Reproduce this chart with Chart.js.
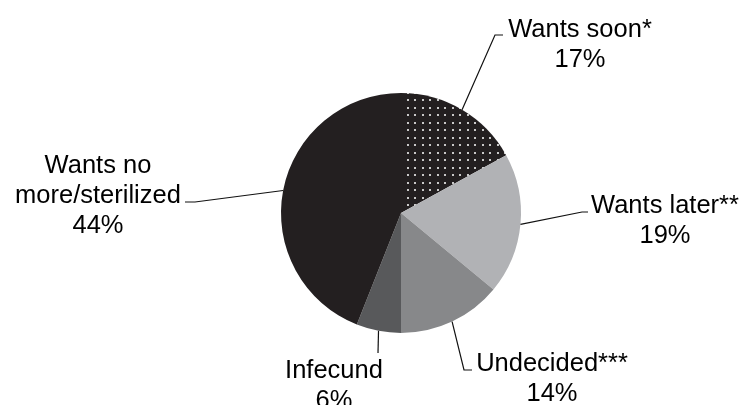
<!DOCTYPE html>
<html>
<head>
<meta charset="utf-8">
<script src="https://cdn.jsdelivr.net/npm/chart.js@4/dist/chart.umd.min.js"></script>
<style>
  html, body { margin: 0; padding: 0; background: #fff; }
  #wrap { width: 740px; height: 405px; position: relative; }
</style>
</head>
<body>
<div id="wrap"><canvas id="pie"></canvas></div>
<script>
// ── Data ──
const categories = ['Wants soon*', 'Wants later**', 'Undecided***', 'Infecund', ['Wants no', 'more/sterilized']];
const shares = [17, 19, 14, 6, 44];
const shareLabels = ['17%', '19%', '14%', '6%', '44%'];

// ── Styling / label layout (pixels) ──
const sliceColors = ['pattern', '#b1b2b5', '#87888a', '#58595b', '#231f20'];
// elbow + end of each leader line, and centre x / first baseline of each label
const leaders = [
  { elbow: [495, 35],  end: [503, 35],  tx: 580, ty: 37,  align: 'center' },
  { elbow: [582, 212], end: [588, 212], tx: 665, ty: 213, align: 'center' },
  { elbow: [464, 370], end: [472, 370], tx: 552, ty: 371, align: 'center' },
  { elbow: [378, 353], end: [378, 353], tx: 334, ty: 378, align: 'center' },
  { elbow: [195, 202], end: [185, 202], tx: 98,  ty: 173, align: 'center' }
];
const LINE_H = 30;
const FONT = '25.5px "Liberation Sans", Arial, sans-serif';

function dotPattern() {
  const c = document.createElement('canvas');
  c.width = 15; c.height = 15;
  const g = c.getContext('2d');
  g.fillStyle = '#231f20';
  g.fillRect(0, 0, 15, 15);
  g.fillStyle = '#c8c8c8';
  [[2, 2], [9, 2], [2, 9], [9, 9]].forEach(([x, y]) => g.fillRect(x, y, 2, 2));
  return g.createPattern(c, 'repeat');
}

const leaderPlugin = {
  id: 'leaders',
  afterDatasetsDraw(chart) {
    const ctx = chart.ctx;
    const arcs = chart.getDatasetMeta(0).data;
    ctx.save();
    ctx.strokeStyle = '#111';
    ctx.lineWidth = 1.2;
    ctx.fillStyle = '#000';
    ctx.font = FONT;
    ctx.textBaseline = 'alphabetic';
    arcs.forEach((arc, i) => {
      const p = arc.getProps(['x', 'y', 'startAngle', 'endAngle', 'outerRadius'], true);
      const mid = (p.startAngle + p.endAngle) / 2;
      const sx = p.x + p.outerRadius * Math.cos(mid);
      const sy = p.y + p.outerRadius * Math.sin(mid);
      const L = leaders[i];
      ctx.beginPath();
      ctx.moveTo(sx, sy);
      ctx.lineTo(L.elbow[0], L.elbow[1]);
      ctx.lineTo(L.end[0], L.end[1]);
      ctx.stroke();

      const lines = [].concat(categories[i], shareLabels[i]);
      ctx.textAlign = L.align;
      lines.forEach((t, k) => ctx.fillText(t, L.tx, L.ty + k * LINE_H));
    });
    ctx.restore();
  }
};

const pattern = dotPattern();

new Chart(document.getElementById('pie'), {
  type: 'pie',
  data: {
    labels: categories.map(c => [].concat(c).join(' ')),
    datasets: [{
      data: shares,
      backgroundColor: sliceColors.map(c => c === 'pattern' ? pattern : c),
      borderWidth: 0
    }]
  },
  options: {
    responsive: true,
    maintainAspectRatio: false,
    animation: false,
    layout: { padding: { left: 281, right: 219, top: 93, bottom: 72 } },
    plugins: {
      legend: { display: false },
      tooltip: { enabled: false }
    }
  },
  plugins: [leaderPlugin]
});
</script>
</body>
</html>
